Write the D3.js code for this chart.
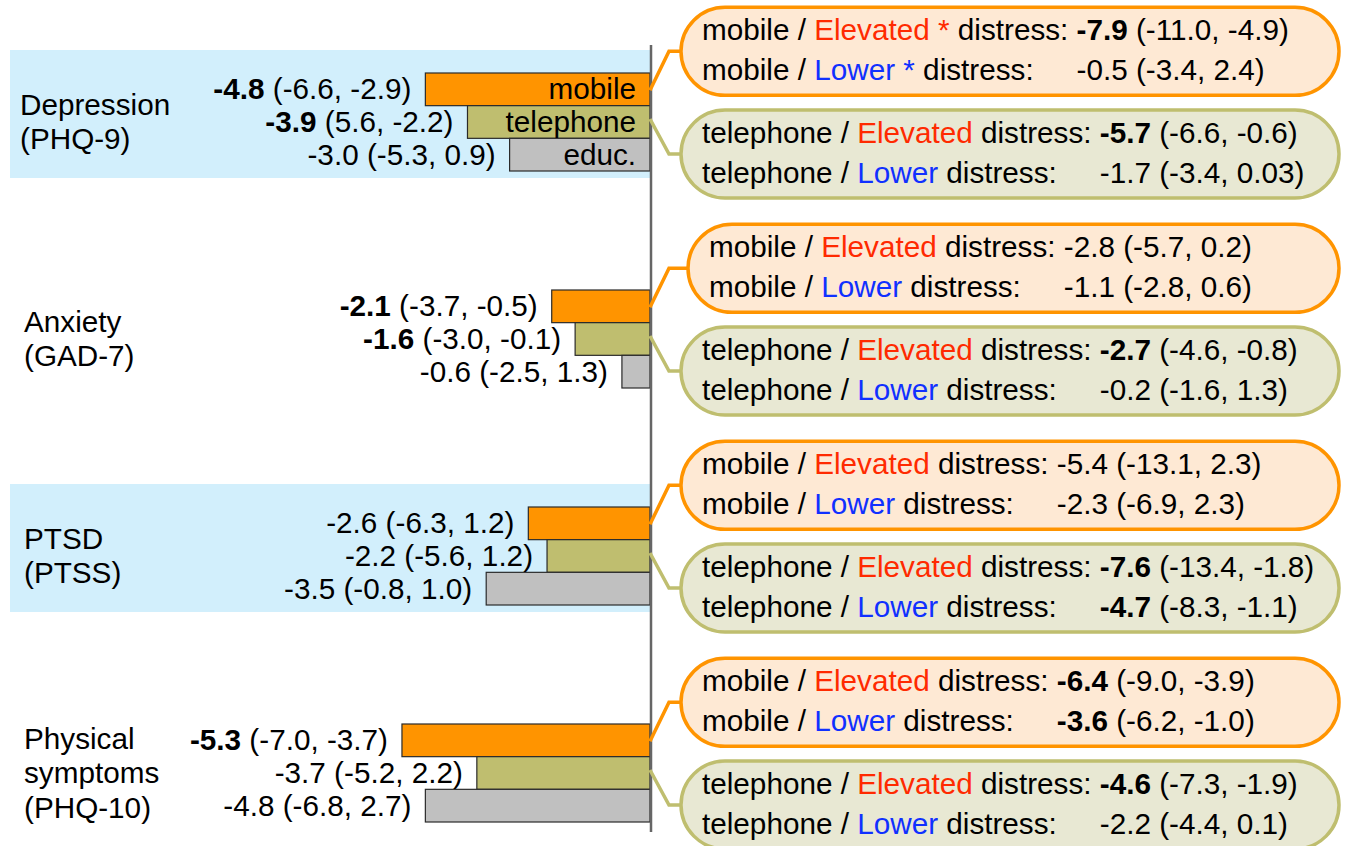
<!DOCTYPE html>
<html>
<head>
<meta charset="utf-8">
<script src="https://cdn.jsdelivr.net/npm/d3@7"></script>
<style>
  html, body { margin: 0; padding: 0; background: #fff; }
  svg { display: block; font-family: "Liberation Sans", Arial, Helvetica, sans-serif; }
  text { white-space: pre; }
</style>
</head>
<body>
<svg id="chart" width="1349" height="846"></svg>
<script>
// Outcomes (row groups) and their multi-line labels
const outcomes = ["Depression", "Anxiety", "PTSD", "Physical"];
const outcomeLabels = [
  ["Depression", "(PHQ-9)"],
  ["Anxiety", "(GAD-7)"],
  ["PTSD", "(PTSS)"],
  ["Physical", "symptoms", "(PHQ-10)"]
];
const highlighted = [true, false, true, false];

// Intervention arms
const arms = ["mobile", "telephone", "educ."];

// Overall effects per arm, one entry per outcome
const mobileEffect    = [-4.8, -2.1, -2.6, -5.3];
const telephoneEffect = [-3.9, -1.6, -2.2, -3.7];
const educEffect      = [-3.0, -0.6, -3.5, -4.8];

const mobileCI    = [[-6.6, -2.9], [-3.7, -0.5], [-6.3, 1.2], [-7.0, -3.7]];
const telephoneCI = [[5.6, -2.2], [-3.0, -0.1], [-5.6, 1.2], [-5.2, 2.2]];
const educCI      = [[-5.3, 0.9], [-2.5, 1.3], [-0.8, 1.0], [-6.8, 2.7]];

const mobileSig    = [true, true, false, true];
const telephoneSig = [true, true, false, false];
const educSig      = [false, false, false, false];

// Subgroup effects (elevated vs lower baseline distress), per outcome
const mobileElevated      = [-7.9, -2.8, -5.4, -6.4];
const mobileElevatedCI    = [[-11.0, -4.9], [-5.7, 0.2], [-13.1, 2.3], [-9.0, -3.9]];
const mobileElevatedSig   = [true, false, false, true];
const mobileLower         = [-0.5, -1.1, -2.3, -3.6];
const mobileLowerCI       = [[-3.4, 2.4], [-2.8, 0.6], [-6.9, 2.3], [-6.2, -1.0]];
const mobileLowerSig      = [false, false, false, true];
const mobileStar          = [true, false, false, false];

const telephoneElevated    = [-5.7, -2.7, -7.6, -4.6];
const telephoneElevatedCI  = [[-6.6, -0.6], [-4.6, -0.8], [-13.4, -1.8], [-7.3, -1.9]];
const telephoneElevatedSig = [true, true, true, true];
const telephoneLower       = [-1.7, -0.2, -4.7, -2.2];
const telephoneLowerCI     = [[-3.4, 0.03], [-1.6, 1.3], [-8.3, -1.1], [-4.4, 0.1]];
const telephoneLowerSig    = [false, false, true, false];
const telephoneStar        = [false, false, false, false];

// ---- layout & styling ----
const FONT = 29.7;
const colors = { mobile: "#ff9400", telephone: "#bfbe6f", "educ.": "#c0c0c0" };
const boxFill = { mobile: "#fee9d4", telephone: "#e8e8d3" };
const boxStroke = { mobile: "#ff9400", telephone: "#bfbe6f" };
const elevatedColor = "#ff2a00";
const lowerColor = "#1030ff";

const fmt = v => Math.abs(v * 10 - Math.round(v * 10)) > 1e-9 ? v.toFixed(2) : v.toFixed(1);
const ciText = ci => `(${fmt(ci[0])}, ${fmt(ci[1])})`;

const svg = d3.select("#chart");

const x = d3.scaleLinear().domain([-5.5, 0]).range([650 - 5.5 * 46.8, 650]);
const yGroup = d3.scaleBand().domain(outcomes).range([73, 73 + 4 * 217]);
const yArm = d3.scaleBand().domain(arms).range([0, 98]);

const effects = { mobile: mobileEffect, telephone: telephoneEffect, "educ.": educEffect };
const cis = { mobile: mobileCI, telephone: telephoneCI, "educ.": educCI };
const sigs = { mobile: mobileSig, telephone: telephoneSig, "educ.": educSig };

// highlight bands behind selected outcomes
outcomes.forEach((o, i) => {
  if (!highlighted[i]) return;
  const top = yGroup(o);
  svg.append("rect")
    .attr("x", 10).attr("width", x(0) - 10)
    .attr("y", top - 23).attr("height", yArm.range()[1] + 30)
    .attr("fill", "#d2effc");
});

// outcome labels
outcomes.forEach((o, i) => {
  const lines = outcomeLabels[i];
  const cy = yGroup(o) + yArm.range()[1] / 2;
  const t = svg.append("text").attr("font-size", FONT).attr("fill", "#000");
  lines.forEach((ln, k) => {
    t.append("tspan")
      .attr("x", i === 0 ? 20 : 24)
      .attr("y", cy + 10 + (k - (lines.length - 1) / 2) * 34.5)
      .text(ln);
  });
});

// bars + value labels
const rows = [];
outcomes.forEach((o, i) => arms.forEach(a => rows.push({ o, i, a, v: effects[a][i], ci: cis[a][i], sig: sigs[a][i] })));

svg.selectAll("rect.bar").data(rows).enter().append("rect")
  .attr("class", "bar")
  .attr("x", d => x(d.v))
  .attr("width", d => x(0) - x(d.v))
  .attr("y", d => yGroup(d.o) + yArm(d.a))
  .attr("height", yArm.bandwidth())
  .attr("fill", d => colors[d.a])
  .attr("stroke", "#2a2a2a").attr("stroke-width", 1.2);

const vl = svg.selectAll("text.val").data(rows).enter().append("text")
  .attr("class", "val")
  .attr("font-size", FONT)
  .attr("text-anchor", "end")
  .attr("x", d => x(d.v) - 14)
  .attr("y", d => yGroup(d.o) + yArm(d.a) + yArm.bandwidth() / 2 + 10);
vl.append("tspan").attr("font-weight", d => d.sig ? "bold" : null).text(d => fmt(d.v));
vl.append("tspan").text(d => " " + ciText(d.ci));

// arm names inside the first group's bars
arms.forEach(a => {
  svg.append("text")
    .attr("font-size", FONT)
    .attr("text-anchor", "end")
    .attr("x", x(0) - 14)
    .attr("y", yGroup(outcomes[0]) + yArm(a) + yArm.bandwidth() / 2 + 10)
    .text(a);
});

// zero axis line
svg.append("line")
  .attr("x1", x(0) + 1).attr("x2", x(0) + 1)
  .attr("y1", 45).attr("y2", 832)
  .attr("stroke", "#666").attr("stroke-width", 2.5);

// subgroup callouts
const sub = {
  mobile: { el: mobileElevated, elCI: mobileElevatedCI, elSig: mobileElevatedSig,
            lo: mobileLower, loCI: mobileLowerCI, loSig: mobileLowerSig, star: mobileStar },
  telephone: { el: telephoneElevated, elCI: telephoneElevatedCI, elSig: telephoneElevatedSig,
               lo: telephoneLower, loCI: telephoneLowerCI, loSig: telephoneLowerSig, star: telephoneStar }
};

const boxRight = 1339, boxH = 88;
outcomes.forEach((o, i) => {
  ["mobile", "telephone"].forEach(a => {
    const s = sub[a];
    const boxLeft = (i === 1 && a === "mobile") ? 688 : 681;
    const barMid = yGroup(o) + yArm(a) + yArm.bandwidth() / 2;
    const cy = a === "mobile" ? barMid - 38 : barMid + 32;
    const g = svg.append("g");

    // connector
    g.append("path")
      .attr("d", d3.line()([[x(0), barMid + (a === "mobile" ? 1 : -3)], [669, cy], [boxLeft, cy]]))
      .attr("fill", "none").attr("stroke", boxStroke[a]).attr("stroke-width", 3.5);

    g.append("rect")
      .attr("x", boxLeft).attr("y", cy - boxH / 2)
      .attr("width", boxRight - boxLeft).attr("height", boxH)
      .attr("rx", boxH / 2).attr("ry", boxH / 2)
      .attr("fill", boxFill[a]).attr("stroke", boxStroke[a]).attr("stroke-width", 3.5);

    const tx = boxLeft + 21;
    const lines = [
      { word: "Elevated", color: elevatedColor, v: s.el[i], ci: s.elCI[i], sig: s.elSig[i], y: cy - 11 },
      { word: "Lower", color: lowerColor, v: s.lo[i], ci: s.loCI[i], sig: s.loSig[i], y: cy + 29 }
    ];
    let valueX = null;
    lines.forEach((ln, k) => {
      const t = g.append("text").attr("font-size", FONT).attr("x", tx).attr("y", ln.y);
      t.append("tspan").text(a + " / ");
      t.append("tspan").attr("fill", ln.color).text(ln.word + (s.star[i] ? " *" : ""));
      t.append("tspan").text(" distress: ");
      if (k === 0) valueX = tx + t.node().getComputedTextLength();
      const vt = g.append("text").attr("font-size", FONT).attr("x", valueX).attr("y", ln.y);
      vt.append("tspan").attr("font-weight", ln.sig ? "bold" : null).text(fmt(ln.v));
      vt.append("tspan").text(" " + ciText(ln.ci));
    });
  });
});
</script>
</body>
</html>
